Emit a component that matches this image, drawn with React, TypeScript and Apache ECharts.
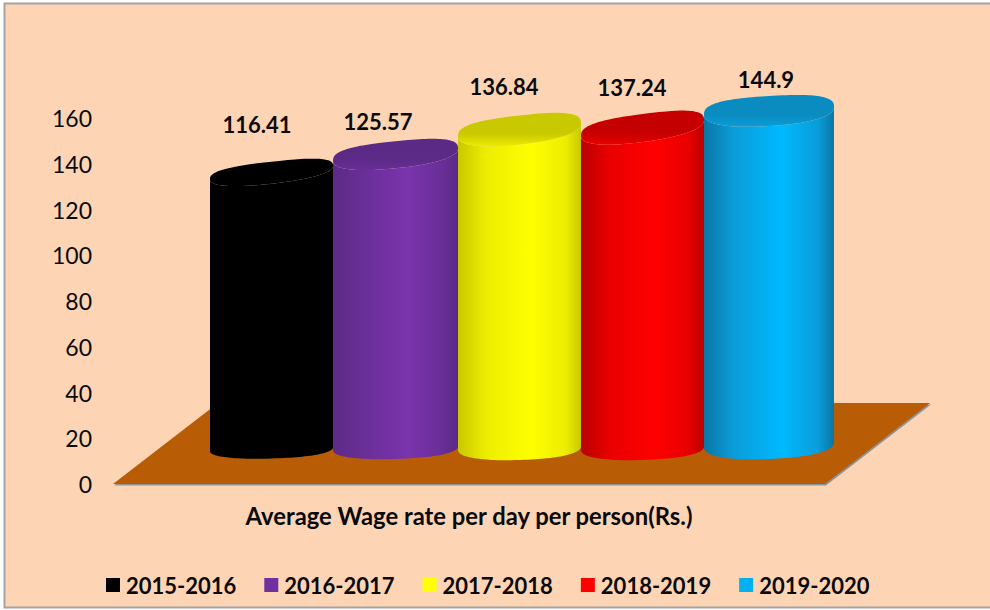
import React, { useEffect, useRef } from "react";
import * as echarts from "echarts";

const categories = ["Average Wage rate per day per person(Rs.)"];
const years = ["2015-2016", "2016-2017", "2017-2018", "2018-2019", "2019-2020"];
const wages = [116.41, 125.57, 136.84, 137.24, 144.9];
const yTicksMax = 160;
const floorDepth = 35.4;

const FONT = "Lato, Carlito, sans-serif";
const swatches = ["#000000", "#7030a0", "#ffff00", "#ff0000", "#00b0f0"];
// [edge, mid, bright, cap]
const shades = [
  ["#000000", "#000000", "#000000", "#000000"],
  ["#5c2a86", "#682e96", "#7a34ad", "#5b2a86"],
  ["#c8c800", "#ecec00", "#ffff00", "#c9c900"],
  ["#b80000", "#e80000", "#ff0000", "#c40000"],
  ["#0a76a4", "#0a9cd8", "#00b9ff", "#0a8cc0"],
];

// cylinder placement relative to the category centre and the axis zero
const offsetX = [-259, -136, -11, 112, 235];
const widths = [123, 125, 123, 123, 130];
const topLift = [-45, -42, -41, -42, -41.5];
const topMinor = [11, 13.5, 14.5, 14, 15];
const topSkew = [-0.11, -0.1, -0.11, -0.13, -0.06];
const baseLift = [-35, -36, -36, -36, -39];
const baseMinor = [9.5, 11, 12, 12, 14];
const baseSkew = [-0.03, -0.03, -0.03, -0.03, -0.04];
const labelDx = [-212, -91, 35, 163, 297];
const labelY = [-93, -75, -84, -83, -73.5];
const ROUND_FRONT = 0.88;
const ROUND_BACK = 0.72;

function spow(x: number, r: number) {
  return Math.sign(x) * Math.pow(Math.abs(x), r);
}

function arc(cx: number, cy: number, a: number, b: number, s: number, t0: number, t1: number, r: number) {
  const pts: number[][] = [];
  const n = 60;
  for (let i = 0; i <= n; i++) {
    const t = t0 + ((t1 - t0) * i) / n;
    const c = spow(Math.cos(t), r);
    const d = spow(Math.sin(t), r);
    pts.push([cx + a * c, cy + a * s * c + b * d]);
  }
  return pts;
}

function cylinder(i: number) {
  return (_params: any, api: any) => {
    const v = api.value(1);
    const [cx, yTop] = api.coord([api.value(0), v]);
    const [, y0] = api.coord([api.value(0), 0]);
    const a = widths[i] / 2;
    const mx = cx + offsetX[i] + a;
    const topY = yTop + topLift[i];
    const botY = y0 + baseLift[i];
    const [edge, mid, bright, cap] = shades[i];
    const topFront = arc(mx, topY, a, topMinor[i], topSkew[i], 0, Math.PI, ROUND_FRONT);
    const topBack = arc(mx, topY, a, topMinor[i], topSkew[i], Math.PI, Math.PI * 2, ROUND_BACK);
    const botFront = arc(mx, botY, a, baseMinor[i], baseSkew[i], Math.PI, 0, ROUND_FRONT);
    const body = [...topFront, ...botFront];
    const capPts = [...topFront, ...topBack];
    return {
      type: "group",
      children: [
        {
          type: "polygon",
          shape: { points: body },
          style: {
            fill: new echarts.graphic.LinearGradient(0, 0, 1, 0, [
              { offset: 0, color: edge },
              { offset: 0.22, color: mid },
              { offset: 0.6, color: bright },
              { offset: 0.88, color: mid },
              { offset: 1, color: edge },
            ]),
          },
        },
        {
          type: "polygon",
          shape: { points: capPts },
          style: {
            fill: new echarts.graphic.LinearGradient(0, 0, 0, 1, [
              { offset: 0, color: cap },
              { offset: 0.62, color: cap },
              { offset: 1, color: mid },
            ]),
          },
        },
        {
          type: "text",
          style: {
            text: String(v),
            x: cx + labelDx[i],
            y: yTop + labelY[i],
            align: "center",
            verticalAlign: "middle",
            font: `bold 22px ${FONT}`,
            fill: "#0a0a0a",
          },
        },
      ],
    };
  };
}

function floor(params: any, api: any) {
  const cs = params.coordSys;
  const yB = api.coord([api.value(0), 0])[1];
  const yT = api.coord([api.value(0), api.value(1)])[1];
  const pts = [
    [cs.x, yB],
    [cs.x + cs.width, yB],
    [cs.x + cs.width + 105, yT],
    [cs.x + 105, yT],
  ];
  return {
    type: "group",
    children: [
      {
        type: "polygon",
        shape: { points: pts.map((p) => [p[0] + 1, p[1] + 1.5]) },
        style: { fill: "#8c949c" },
      },
      { type: "polygon", shape: { points: pts }, style: { fill: "#b95c06" } },
    ],
  };
}

export default function App() {
  const ref = useRef<HTMLDivElement>(null);
  useEffect(() => {
    const chart = echarts.init(ref.current!, null, { renderer: "svg" });
    chart.setOption({
      animation: false,
      backgroundColor: "#ffffff",
      textStyle: { fontFamily: FONT },
      graphic: [
        {
          type: "rect",
          z: -10,
          silent: true,
          shape: { x: 4.5, y: 3.5, width: 1000, height: 604 },
          style: { fill: "#fdd5b5", stroke: "#a3a3a3", lineWidth: 2 },
        },
      ],
      grid: { left: 113, right: 165, top: 118, bottom: 126 },
      xAxis: {
        type: "category",
        data: categories,
        axisLine: { show: false },
        axisTick: { show: false },
        axisLabel: {
          margin: 20,
          fontSize: 23.8,
          fontWeight: "bold",
          color: "#0a0a0a",
          fontFamily: FONT,
        },
      },
      yAxis: {
        type: "value",
        min: 0,
        max: yTicksMax,
        interval: 20,
        axisLine: { show: false },
        axisTick: { show: false },
        splitLine: { show: false },
        axisLabel: { margin: 21, fontSize: 23, color: "#0a0a0a", fontFamily: FONT },
      },
      legend: {
        data: years,
        left: 101,
        top: 569,
        icon: "rect",
        itemWidth: 14,
        itemHeight: 14,
        itemGap: 28,
        selectedMode: false,
        textStyle: { fontSize: 22, fontWeight: "bold", color: "#0a0a0a", fontFamily: FONT, padding: [0, 0, 0, 1] },
      },
      series: [
        {
          type: "custom",
          name: "floor",
          renderItem: floor,
          silent: true,
          encode: { x: 0, y: 1 },
          data: [[categories[0], floorDepth]],
        },
        ...years.map((y, i) => ({
          type: "custom",
          name: y,
          itemStyle: { color: swatches[i] },
          renderItem: cylinder(i),
          encode: { x: 0, y: 1 },
          data: [[categories[0], wages[i]]],
        })),
      ],
    });
    return () => chart.dispose();
  }, []);
  return (
    <div
      ref={ref}
      style={{ position: "fixed", left: 0, top: 0, width: 990, height: 610 }}
    />
  );
}
